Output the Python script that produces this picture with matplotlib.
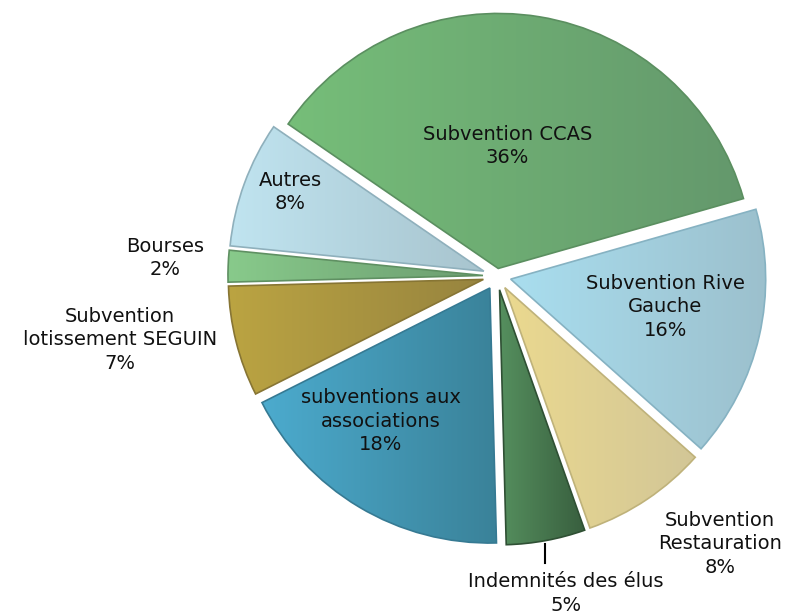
import matplotlib.pyplot as plt
import numpy as np
from matplotlib.colors import LinearSegmentedColormap

labels = ['Subvention CCAS', 'Subvention Rive\nGauche', 'Subvention\nRestauration',
          'Indemnités des élus', 'subventions aux\nassociations',
          'Subvention\nlotissement SEGUIN', 'Bourses', 'Autres']
shares = [36, 16, 8, 5, 18, 7, 2, 8]

# light (left) / dark (right) colour of each slice
light = ['#76be79', '#a9deef', '#ebd98f', '#558f5e', '#4cabce', '#bba442', '#88ca8b', '#c0e4f0']
dark = ['#64986c', '#9cc0cd', '#d2c697', '#385e3e', '#3a8299', '#97843f', '#6c9c70', '#a8c4ce']
edge = ['#5b8f60', '#86b2c2', '#bfb27a', '#2f5034', '#367a93', '#877534', '#5f9062', '#8fb0bc']
explode = [0.03, 0.055, 0.055, 0.055, 0.055, 0.055, 0.055, 0.055]

# label positions, in pie radii from the centre
label_pos = [(0.04, 0.51), (0.66, -0.12), (0.875, -1.05), (0.27, -1.245),
             (-0.455, -0.57), (-1.48, -0.25), (-1.30, 0.07), (-0.81, 0.33)]

cx, cy, R = 497, 276, 255
W, H = 792, 614

fig = plt.figure(figsize=(7.92, 6.14), dpi=100)
ax = fig.add_axes([0, 0, 1, 1])

wedges, _ = ax.pie(shares, startangle=145.5, counterclock=False, radius=1,
                   explode=explode, frame=True)

for i, w in enumerate(wedges):
    w.set_facecolor('none')
    w.set_edgecolor(edge[i])
    w.set_linewidth(1.2)
    w.set_zorder(3)
    bb = w.get_path().get_extents()
    cmap = LinearSegmentedColormap.from_list('g%d' % i, [light[i], dark[i]])
    grad = np.linspace(0, 1, 256).reshape(1, -1)
    im = ax.imshow(grad, cmap=cmap, extent=(bb.x0, bb.x1, bb.y0, bb.y1),
                   aspect='auto', zorder=2, interpolation='bilinear')
    im.set_clip_path(w)

ax.set_xlim(-cx / R, (W - cx) / R)
ax.set_ylim(-(H - cy) / R, cy / R)
ax.axis('off')

for i, (lab, s) in enumerate(zip(labels, shares)):
    x, y = label_pos[i]
    ax.text(x, y, '%s\n%d%%' % (lab, s), ha='center', va='center',
            fontsize=14, color='#111111', linespacing=1.3, zorder=5)

# leader line for the small slice
ax.plot([0.188, 0.188], [-1.05, -1.125], color='black', lw=1.5, zorder=5)

fig.savefig('out.png', dpi=100)
